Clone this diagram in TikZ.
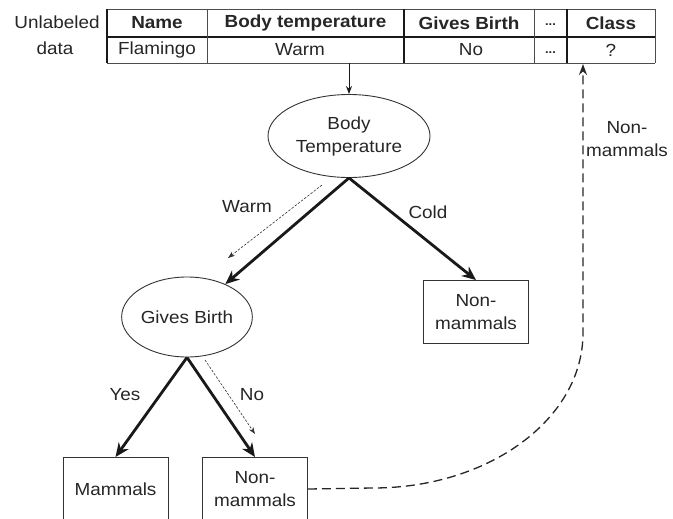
\documentclass[tikz,border=0pt]{standalone}
\usepackage{fontspec}
\setmainfont{Liberation Sans}[FakeStretch=1.08]
\usetikzlibrary{arrows.meta,shapes.geometric}

\begin{document}
\begin{tikzpicture}[x=1pt,y=-1pt,
  every node/.style={font=\fontsize{17.5}{23}\selectfont, inner sep=0pt, align=center, text=black!85},
  ell/.style={ellipse, draw=black!80, line width=0.9pt},
  leaf/.style={rectangle, draw=black!80, line width=0.9pt, minimum width=105pt, minimum height=63pt},
  branch/.style={line width=2.8pt, black!90, -{Stealth[length=14pt,width=12pt]}},
  trace/.style={line width=0.6pt, black!80, dash pattern=on 2.5pt off 1.5pt, -{Stealth[length=7pt,width=5pt]}},
  back/.style={line width=1.3pt, black!85, dash pattern=on 9pt off 5pt, -{Stealth[length=11pt,width=8pt]}},
  feed/.style={line width=1pt, black!90, -{Stealth[length=8pt,width=6pt]}},
  heavyrule/.style={line width=1.8pt, black!90},
  lightrule/.style={line width=0.8pt, black!70},
  dots/.style={font=\fontsize{12}{14}\selectfont\bfseries}]

\useasboundingbox (0,0) rectangle (673,519);
\clip (0,0) rectangle (673,519);

% ---- record to classify ----
\node (lab1) at (57,22) {Unlabeled};
\node (lab2) at (55,48) {data};

\draw[lightrule] (107,9) -- (655,9);
\draw[heavyrule] (107,37) -- (655,37);
\draw[lightrule] (107,63) -- (655,63);
\draw[heavyrule] (107,9) -- (107,63);
\draw[lightrule] (207,9) -- (207,63);
\draw[heavyrule] (404,9) -- (404,63);
\draw[lightrule] (534,9) -- (534,63);
\draw[heavyrule] (567,9) -- (567,63);
\draw[lightrule] (655,9) -- (655,63);

\node (hName)  at (157,23)   {\bfseries Name};
\node (hTemp)  at (305.5,23) {\bfseries Body temperature};
\node (hBirth) at (469,23)   {\bfseries Gives Birth};
\node[dots] (hMore) at (550.5,25) {...};
\node (hClass) at (611,23)   {\bfseries Class};

\node (dName)  at (157,50)   {Flamingo};
\node (dTemp)  at (300,50)   {Warm};
\node (dBirth) at (471,50)   {No};
\node[dots] (dMore) at (550.5,53) {...};
\node (dClass) at (611,50)   {?};

\coordinate (tblout) at (349,63);
\coordinate (tblin)  at (583,64);

% ---- decision tree ----
\node[ell, minimum width=162pt, minimum height=83pt] (bt) at (349,136) {Body\\Temperature};
\node[ell, minimum width=130pt, minimum height=80pt] (gb) at (187,317) {Gives Birth};
\node[leaf] (nm1) at (476,312) {Non-\\mammals};
\node[leaf] (mam) at (115.5,489) {Mammals};
\node[leaf] (nm2) at (255,489) {Non-\\mammals};

\draw[feed] (tblout) -- (bt);

\draw[branch] (bt.south) -- (gb);
\draw[branch] (bt.south) -- (nm1.north);
\draw[branch] (gb.south) -- (mam.north);
\draw[branch] (gb.south) -- (nm2.north);

\node (lWarm) at (247,207) {Warm};
\node (lCold) at (428,212) {Cold};
\node (lYes)  at (125,395) {Yes};
\node (lNo)   at (252,395) {No};

% path followed by the flamingo
\coordinate (w1) at (322,185);
\coordinate (w2) at (228,258);
\coordinate (n1) at (205,360);
\coordinate (n2) at (255,434);
\draw[trace] (w1) -- (w2);
\draw[trace] (n1) -- (n2);

% class assigned back to the record
\coordinate (c1) at (373,488);
\coordinate (c2) at (583,333);
\draw[back] (nm2.east) -- (c1) .. controls (489,488) and (583,419) .. (c2) -- (tblin);
\node (lBack) at (627,139) {Non-\\mammals};

\end{tikzpicture}
\end{document}
